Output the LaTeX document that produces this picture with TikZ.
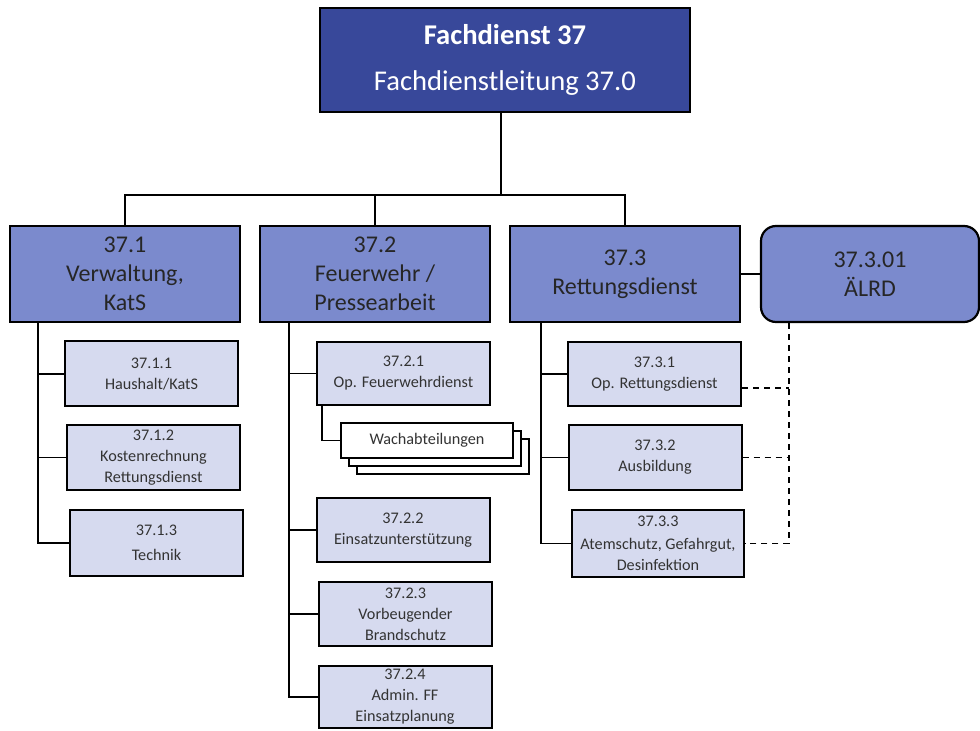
\documentclass[tikz,border=0pt]{standalone}
\usepackage{fontspec}
\setmainfont{Carlito}
\definecolor{leitblau}{HTML}{38489A}
\definecolor{mittelblau}{HTML}{7B8ACD}
\definecolor{hellblau}{HTML}{D6DAEF}

\begin{document}
\begin{tikzpicture}[x=0.5pt,y=-0.5pt,
    head/.style={draw=black, line width=1.1pt, fill=leitblau, text=white, inner sep=0pt,
      minimum width=185pt, minimum height=52pt, align=center, font=\fontsize{14.3}{16.5}\selectfont},
    unit/.style={draw=black, line width=1.1pt, fill=mittelblau, text=black!85, inner sep=0pt,
      minimum width=115pt, minimum height=48pt, align=center, font=\fontsize{12}{14.5}\selectfont},
    sub/.style={draw=black, line width=1pt, fill=hellblau, text=black!80, inner sep=0pt,
      minimum width=86.5pt, minimum height=32.5pt, align=center, font=\fontsize{8.1}{10.5}\selectfont},
    stack/.style={draw=black, line width=1pt, fill=white, text=black!80, inner sep=0pt,
      minimum width=86pt, minimum height=17.5pt, align=center, font=\fontsize{8.1}{10}\selectfont},
    link/.style={line width=0.95pt},
    dashlink/.style={line width=0.95pt, dash pattern=on 3pt off 2.5pt}]
    \useasboundingbox (0,0) rectangle (980,731);

    % Leitung
    \node[head] (fd) at (505,60) {\textbf{Fachdienst 37}\\[6.5pt]Fachdienstleitung 37.0};

    % Sachgebiete
    \node[unit] (u1) at (125,274) {37.1\\Verwaltung,\\KatS};
    \node[unit] (u2) at (375,274) {37.2\\Feuerwehr /\\Pressearbeit};
    \node[unit] (u3) at (625,274) {37.3\\Rettungsdienst};
    \node[unit, rounded corners=7.5pt, minimum width=109pt] (alrd) at (870,274) {37.3.01\\ÄLRD};

    % 37.1
    \node[sub] (s11) at (151.5,374) {37.1.1\\Haushalt/KatS};
    \node[sub] (s12) at (153.5,457.5) {37.1.2\\Kostenrechnung\\Rettungsdienst};
    \node[sub, minimum height=33pt] (s13) at (156.5,543) {37.1.3\\[2pt]Technik};

    % 37.2
    \node[sub, minimum height=31.5pt] (s21) at (403.5,373.5) {37.2.1\\Op. Feuerwehrdienst};
    \node[stack] (wc) at (443,456.5) {};
    \node[stack] (wb) at (435,448.5) {};
    \node[stack] (wa) at (427,440.5) {Wachabteilungen};
    \node[sub, minimum height=32pt] (s22) at (403,530) {37.2.2\\Einsatzunterstützung};
    \node[sub, minimum height=32pt] (s23) at (405.5,614) {37.2.3\\Vorbeugender\\Brandschutz};
    \node[sub, minimum height=31pt] (s24) at (405,697) {37.2.4\\Admin. FF\\Einsatzplanung};

    % 37.3
    \node[sub, minimum height=32pt] (s31) at (654.5,374) {37.3.1\\Op. Rettungsdienst};
    \node[sub] (s32) at (655,457.5) {37.3.2\\Ausbildung};
    \node[sub, minimum height=33.5pt, minimum width=86pt] (s33) at (658,543.5) {37.3.3\\[1pt]Atemschutz, Gefahrgut,\\Desinfektion};

    % Verbindungen oben
    \coordinate (top) at (501,195);
    \draw[link] (top |- fd.south) -- (top);
    \draw[link] (u1.north) |- (top) -| (u3.north);
    \draw[link] (u2.north) -- (u2.north |- top);
    \draw[link] (u3.east) -- (alrd.west);

    % Verbindungen unten
    \coordinate (b1) at (38,0);
    \coordinate (b2) at (289,0);
    \coordinate (b21) at (322,0);
    \coordinate (b3) at (541,0);
    \coordinate (b4) at (789,0);
    \draw[link] (b1 |- u1.south) |- (s13.west);
    \draw[link] (b1 |- s11) -- (s11.west);
    \draw[link] (b1 |- s12) -- (s12.west);
    \draw[link] (b2 |- u2.south) |- (s24.west);
    \draw[link] (b2 |- s21) -- (s21.west);
    \draw[link] (b2 |- s22) -- (s22.west);
    \draw[link] (b2 |- s23) -- (s23.west);
    \draw[link] (b21 |- s21.south) |- (wa.west);
    \draw[link] (b3 |- u3.south) |- (s33.west);
    \draw[link] (b3 |- s31) -- (s31.west);
    \draw[link] (b3 |- s32) -- (s32.west);
    \path ([yshift=-7pt]s31.east) coordinate (d1);
    \draw[dashlink] (b4 |- alrd.south) |- (s33.east);
    \draw[dashlink] (d1) -- (d1 -| b4);
    \draw[dashlink] (s32.east) -- (s32.east -| b4);
\end{tikzpicture}
\end{document}
